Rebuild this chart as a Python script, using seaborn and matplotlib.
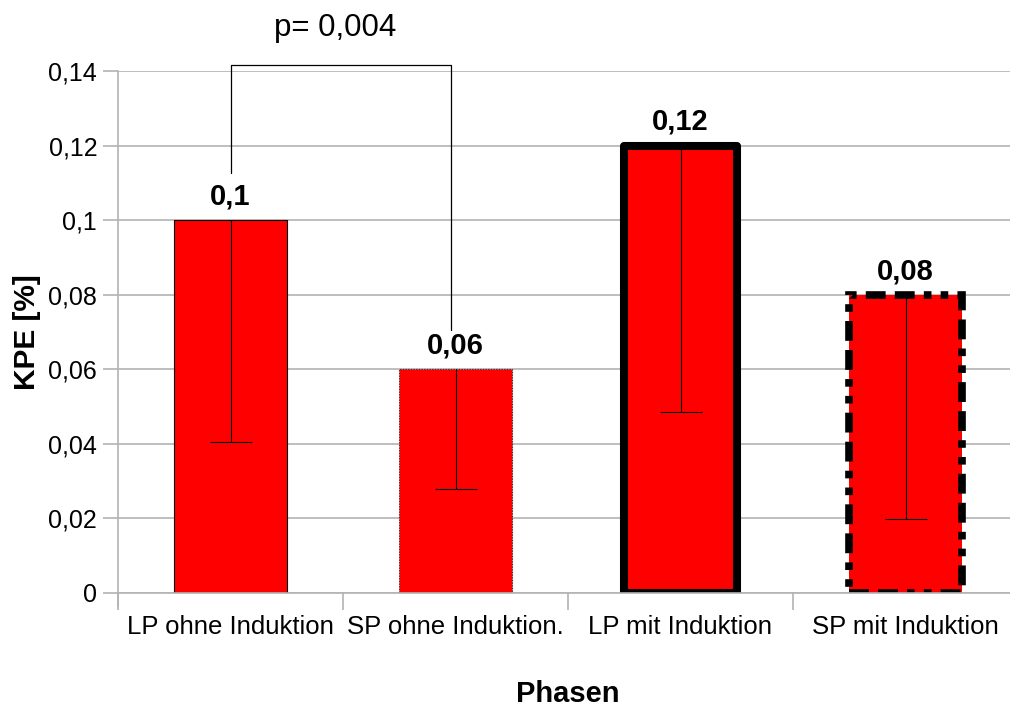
import matplotlib
matplotlib.use("Agg")
import matplotlib.pyplot as plt
import seaborn as sns
import pandas as pd
import numpy as np

categories = ["LP ohne Induktion", "SP ohne Induktion.", "LP mit Induktion", "SP mit Induktion"]
values = [0.10, 0.06, 0.12, 0.08]
lower_ends = [0.0405, 0.028, 0.0485, 0.0198]
value_labels = ["0,1", "0,06", "0,12", "0,08"]
ytick_values = [0, 0.02, 0.04, 0.06, 0.08, 0.10, 0.12, 0.14]
ytick_labels = ["0", "0,02", "0,04", "0,06", "0,08", "0,1", "0,12", "0,14"]
p_text = "p= 0,004"

sns.set_theme(style="white")
plt.rcParams["font.family"] = ["Liberation Sans", "DejaVu Sans"]
plt.rcParams["text.color"] = "black"
plt.rcParams["axes.labelcolor"] = "black"
plt.rcParams["xtick.color"] = "black"
plt.rcParams["ytick.color"] = "black"

df = pd.DataFrame({"Phase": categories, "KPE": values})

fig = plt.figure(figsize=(10.10, 7.08), dpi=100)
ax = fig.add_axes([118 / 1010, 115 / 708, 900 / 1010, 522 / 708])

sns.barplot(data=df, x="Phase", y="KPE", color="#ff0000", saturation=1,
            width=0.5, errorbar=None, ax=ax, zorder=2)

styles = [
    dict(edgecolor="black", linewidth=0.8, linestyle="-"),
    dict(edgecolor="#333333", linewidth=0.8, linestyle=(0, (1.2, 1.2))),
    dict(edgecolor="black", linewidth=5.8, linestyle="-", joinstyle="round"),
    dict(edgecolor="black", linewidth=5.5, linestyle=(0, (2.6, 1.2, 2.6, 1.2, 1.0, 1.2, 1.0, 1.2))),
]
for patch, st in zip(ax.patches, styles):
    patch.set_edgecolor(st["edgecolor"])
    patch.set_linewidth(st["linewidth"])
    patch.set_linestyle(st["linestyle"])
    if "joinstyle" in st:
        patch.set_joinstyle(st["joinstyle"])

x = np.arange(len(categories))
lower_err = np.array(values) - np.array(lower_ends)
eb = ax.errorbar(x, values, yerr=[lower_err, np.zeros(len(values))], fmt="none",
                 ecolor="black", elinewidth=0.8, capsize=15, capthick=0.8, zorder=3)
# keep only the lower caps
if len(eb[1]) > 1:
    eb[1][1].remove()

for xi, v, lab in zip(x, values, value_labels):
    ax.annotate(lab, (xi, v), xytext=(0, 17), textcoords="offset points",
                ha="center", va="center", fontsize=21, fontweight="bold")

# significance bracket
ax.plot([0.0, 0.0, 0.98, 0.98], [0.1126, 0.1416, 0.1416, 0.0705],
        color="black", linewidth=0.9, clip_on=False, zorder=4)
ax.text(0.464, 0.1515, p_text, ha="center", va="center", fontsize=22.5)

ax.set_xlim(-0.5, 3.5)
ax.set_ylim(0, 0.14)
ax.set_yticks(ytick_values)
ax.set_yticklabels(ytick_labels, fontsize=18)
ax.set_xticks(x)
ax.set_xticklabels(categories, fontsize=18.5)
ax.set_xticks([-0.5, 0.5, 1.5, 2.5, 3.5], minor=True)
ax.tick_params(axis="x", which="major", length=0, pad=16)
ax.tick_params(axis="x", which="minor", length=12, width=1.2, color="#b3b3b3", bottom=True)
ax.tick_params(axis="y", which="major", length=11, width=1.2, color="#b3b3b3", left=True, pad=4)

ax.grid(axis="y", color="#b3b3b3", linewidth=1.2, zorder=0)
ax.set_axisbelow(True)
for s in ["top", "right"]:
    ax.spines[s].set_visible(False)
for s in ["left", "bottom"]:
    ax.spines[s].set_color("#b3b3b3")
    ax.spines[s].set_linewidth(1.2)
ax.spines["left"].set_bounds(-0.0035, 0.14)

ax.set_xlabel("Phasen", fontsize=21, fontweight="bold", labelpad=29)
ax.set_ylabel("KPE [%]", fontsize=21.5, fontweight="bold", labelpad=5)

fig.savefig("out.png", dpi=100)
